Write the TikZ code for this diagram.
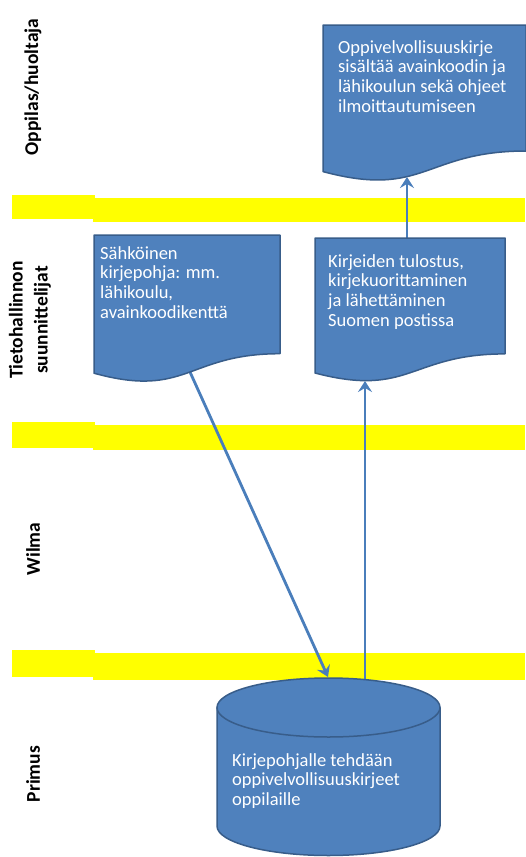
\documentclass[tikz,border=0pt]{standalone}
\usepackage{fontspec}
\setmainfont{Carlito}
\usetikzlibrary{arrows.meta}
\definecolor{boxblue}{RGB}{79,129,189}
\definecolor{boxedge}{RGB}{56,93,138}
\definecolor{linkblue}{RGB}{74,126,187}
\definecolor{laneyellow}{RGB}{255,255,0}
\tikzset{
  band/.style={fill=laneyellow, draw=none},
  docshape/.style={fill=boxblue, draw=boxedge, line width=1.5pt, line join=round},
  boxtext/.style={inner sep=0pt, anchor=base west, text=white,
    font=\fontsize{18.5}{19.7}\selectfont},
  lanelabel/.style={rotate=90, inner sep=0pt, text=black, align=center,
    font=\fontsize{19.5}{25}\selectfont\bfseries},
  link/.style={draw=linkblue, line width=2.8pt,
    -{Stealth[width=14pt,length=11pt,inset=4pt]}},
}
\begin{document}
\begin{tikzpicture}[x=1pt,y=-1pt]
\useasboundingbox (0,0) rectangle (525,857);
\fill[white] (0,0) rectangle (525,857);
% lane separators
\fill[band] (12,195) rectangle (95,219);
\fill[band] (93,198) rectangle (525,222);
\fill[band] (12,422) rectangle (95,448);
\fill[band] (93,425) rectangle (525,450);
\fill[band] (12,650) rectangle (95,677);
\fill[band] (93,653) rectangle (525,680);
% lane labels
\node[lanelabel] (laneA) at (33,87) {Oppilas/huoltaja};
\node[lanelabel] (laneB) at (30,320) {Tietohallinnon\\suunnittelijat};
\node[lanelabel] (laneC) at (33,549) {Wilma};
\node[lanelabel] (laneD) at (33,774) {Primus};
% connector end points
\coordinate (sahkoOut) at (190,372);
\coordinate (cylInA) at (328,677);
\coordinate (cylOutB) at (365,690);
\coordinate (kirjIn) at (365,381);
\coordinate (kirjOut) at (407,245);
\coordinate (topIn) at (407,177);
% connectors (drawn below shapes)
\draw[link] (sahkoOut) -- (cylInA);
\draw[link] (cylOutB) -- (kirjIn);
\draw[link] (kirjOut) -- (topIn);
% document shapes
\draw[docshape] (323,25) -- (526,25) -- (526,151)
  .. controls (424.5,151) and (424.5,198.8) .. (323,171.6) -- cycle;
\draw[docshape] (94,235) -- (280,235) -- (280,353.7)
  .. controls (187,353.7) and (187,398.8) .. (94,373.2) -- cycle;
\draw[docshape] (315,238) -- (505,238) -- (505,353.9)
  .. controls (410,353.9) and (410,397.9) .. (315,373) -- cycle;
% cylinder
\draw[docshape] (217,707.5) -- (217,826)
  arc[start angle=180, end angle=360, x radius=111.5pt, y radius=29.5pt]
  -- (440,707.5) -- cycle;
\draw[docshape] (328.5,707.5) ellipse [x radius=111.5pt, y radius=29.5pt];
% texts
\node[boxtext] (docTop) at (338,53) {\parbox[t]{185pt}{\raggedright
  Oppivelvollisuuskirje\\sisältää avainkoodin ja\\lähikoulun sekä ohjeet\\ilmoittautumiseen}};
\node[boxtext] (docSahko) at (100,259) {\parbox[t]{175pt}{\raggedright
  Sähköinen\\kirjepohja: mm.\\lähikoulu,\\avainkoodikenttä}};
\node[boxtext] (docKirj) at (328,267) {\parbox[t]{175pt}{\raggedright
  Kirjeiden tulostus,\\kirjekuorittaminen\\ja lähettäminen\\Suomen postissa}};
\node[boxtext] (cylText) at (232,766) {\parbox[t]{200pt}{\raggedright
  Kirjepohjalle tehdään\\oppivelvollisuuskirjeet\\oppilaille}};
\end{tikzpicture}
\end{document}
